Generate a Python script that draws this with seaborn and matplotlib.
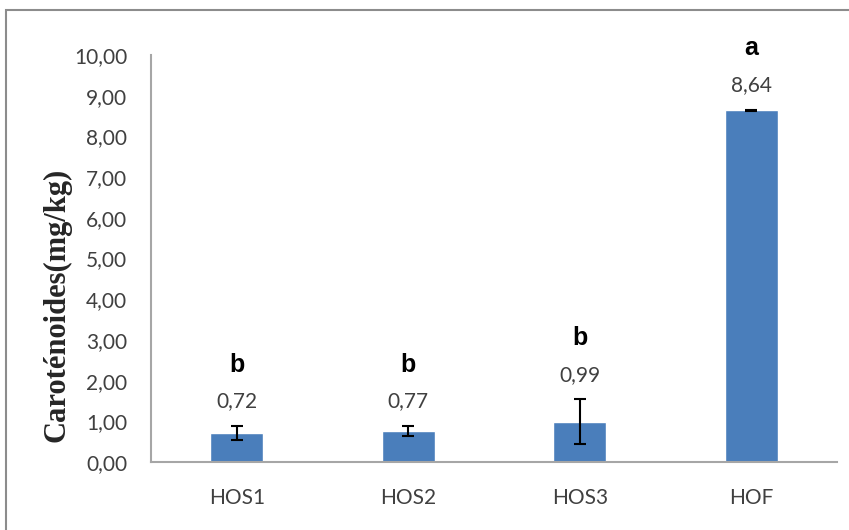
import numpy as np
import matplotlib
matplotlib.use("Agg")
import matplotlib.pyplot as plt
import seaborn as sns
import pandas as pd
from matplotlib.patches import Rectangle

samples = ["HOS1", "HOS2", "HOS3", "HOF"]
carotenoids = [0.72, 0.77, 0.99, 8.64]
errors = [0.17, 0.12, 0.55, 0.02]
letters = ["b", "b", "b", "a"]
value_labels = ["0,72", "0,77", "0,99", "8,64"]
y_ticks = [0, 1, 2, 3, 4, 5, 6, 7, 8, 9, 10]

df = pd.DataFrame({"sample": samples, "value": carotenoids})

sns.set_style("white")
plt.rcParams["font.family"] = ["Lato", "DejaVu Sans"]

fig = plt.figure(figsize=(8.49, 5.30), dpi=100)
ax = fig.add_axes([151/849, 1-462/530, (837-151)/849, (462-55)/530])

sns.barplot(data=df, x="sample", y="value", color="#4a7ebb", width=0.31,
            errorbar=None, ax=ax, saturation=1)
ax.errorbar(range(len(samples)), carotenoids, yerr=errors, fmt="none",
            ecolor="black", elinewidth=1.5, capsize=4, capthick=1.5)

ax.set_xlim(-0.5, 3.5)
ax.set_ylim(0, 10)
ax.set_yticks(y_ticks)
ax.set_yticklabels([f"{t:.2f}".replace(".", ",") for t in y_ticks],
                   fontsize=15, color="#404040")
ax.set_xticks(range(len(samples)))
ax.set_xticklabels(samples, fontsize=15, color="#404040")
ax.tick_params(axis="y", length=0, pad=17)
ax.tick_params(axis="x", length=0, pad=19)
ax.set_xlabel("")
ax.set_ylabel("")

for side in ["top", "right"]:
    ax.spines[side].set_visible(False)
for side in ["left", "bottom"]:
    ax.spines[side].set_color("#a6a6a6")
    ax.spines[side].set_linewidth(1.5)

for i, (v, e) in enumerate(zip(carotenoids, errors)):
    top = v + e
    ax.text(i, top + 0.6, value_labels[i], ha="center", va="center",
            fontsize=15, color="#404040")
    ax.text(i, top + 1.5, letters[i], ha="center", va="center",
            fontsize=18, fontweight="bold", color="black",
            family=["Liberation Sans", "DejaVu Sans"], clip_on=False)

fig.text(57/849, 1-305/530, "Caroténoides(mg/kg)", rotation=90,
         ha="center", va="center", fontsize=22, fontweight="bold",
         family=["Liberation Serif", "DejaVu Serif"])

fig.patches.append(Rectangle((6/849, -0.1), 1.2, 1.1 - 10/530,
                             transform=fig.transFigure, fill=False,
                             edgecolor="#8c8c8c", linewidth=1.5))

fig.savefig("out.png", dpi=100)
